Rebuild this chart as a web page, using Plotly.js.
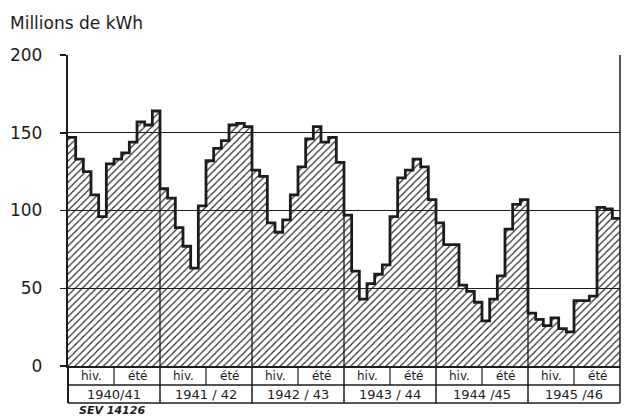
<!DOCTYPE html>
<html>
<head>
<meta charset="utf-8">
<script src="https://cdn.plot.ly/plotly-3.0.1.min.js"></script>
<style>html,body{margin:0;padding:0;background:#fff;}#chart{width:625px;height:418px;}</style>
</head>
<body>
<div id="chart"></div>
<script>
// Monthly values (millions de kWh), hydrological years, 12 months each
const years = ["1940/41", "1941 / 42", "1942 / 43", "1943 / 44", "1944 /45", "1945 /46"];
const seasons = ["hiv.", "été"];
const v1940 = [147, 133, 125, 110, 96, 130, 133, 137, 144, 157, 155, 164];
const v1941 = [114, 108, 89, 77, 63, 103, 132, 140, 145, 155, 156, 154];
const v1942 = [126, 122, 92, 86, 94, 110, 128, 146, 154, 144, 147, 131];
const v1943 = [97, 61, 43, 53, 59, 65, 96, 121, 126, 133, 128, 107];
const v1944 = [92, 78, 78, 52, 48, 41, 29, 43, 58, 88, 104, 107];
const v1945 = [34, 30, 26, 31, 24, 22, 42, 42, 45, 102, 101, 95];
const yTicks = [0, 50, 100, 150, 200];

const series = [v1940, v1941, v1942, v1943, v1944, v1945];
const yv = [].concat(...series);
const xv = yv.map((_, i) => i);
const nMonths = yv.length;
xv.push(nMonths); yv.push(yv[yv.length - 1]);
const perYear = 12;

const ink = '#1c1c1c';
const font = 'DejaVu Sans, sans-serif';

const trace = {
  type: 'scatter', mode: 'lines', x: xv, y: yv,
  line: {shape: 'hv', color: ink, width: 2.8},
  fill: 'tozeroy', fillcolor: 'rgba(0,0,0,0)',
  fillpattern: {shape: '/', size: 5, solidity: 0.22, fgcolor: '#222', bgcolor: 'rgba(0,0,0,0)'},
  hoverinfo: 'skip'
};

const row1 = -0.0611, row2 = -0.119;
const shapes = [];
const annotations = [];
const nYears = years.length;
// year separators inside the plot, from the baseline up to the step line
for (let k = 1; k < nYears; k++) {
  const i = k * perYear;
  shapes.push({type: 'line', xref: 'x', yref: 'y', x0: i, x1: i, y0: 0, y1: Math.min(yv[i - 1], yv[i]), line: {color: ink, width: 1.3}});
}
// right border
shapes.push({type: 'line', xref: 'paper', yref: 'paper', x0: 1, x1: 1, y0: 0, y1: 1, line: {color: ink, width: 1.5}});
// table horizontal lines
[row1, row2].forEach(y => shapes.push({type: 'line', xref: 'paper', yref: 'paper', x0: 0, x1: 1, y0: y, y1: y, line: {color: ink, width: 1.5}}));
// table vertical lines
for (let k = 0; k <= nYears; k++) {
  shapes.push({type: 'line', xref: 'paper', yref: 'paper', x0: k / nYears, x1: k / nYears, y0: row2, y1: 0, line: {color: ink, width: k === 0 ? 2 : 1.5}});
}
for (let k = 0; k < nYears; k++) {
  const mid = (k + 0.5) / nYears;
  shapes.push({type: 'line', xref: 'paper', yref: 'paper', x0: mid, x1: mid, y0: row1, y1: 0, line: {color: ink, width: 1.2}});
  annotations.push({xref: 'paper', yref: 'paper', x: (k + 0.25) / nYears, y: row1 / 2, text: seasons[0], showarrow: false, font: {family: font, size: 12, color: ink}, xanchor: 'center', yanchor: 'middle'});
  annotations.push({xref: 'paper', yref: 'paper', x: (k + 0.75) / nYears, y: row1 / 2, text: seasons[1], showarrow: false, font: {family: font, size: 12, color: ink}, xanchor: 'center', yanchor: 'middle'});
  annotations.push({xref: 'paper', yref: 'paper', x: (k + 0.5) / nYears, y: (row1 + row2) / 2, text: years[k], showarrow: false, font: {family: font, size: 13, color: ink}, xanchor: 'center', yanchor: 'middle'});
}
annotations.push({xref: 'paper', yref: 'paper', x: 0.016, y: -0.142, text: '<b><i>SEV 14126</i></b>', showarrow: false, font: {family: font, size: 11, color: ink}, xanchor: 'left', yanchor: 'middle'});

const layout = {
  width: 625, height: 418,
  margin: {l: 68, r: 5, t: 55, b: 52},
  paper_bgcolor: '#fff', plot_bgcolor: '#fff',
  showlegend: false,
  title: {text: 'Millions de kWh', x: 0.016, xanchor: 'left', xref: 'container', y: 0.945, yref: 'container', yanchor: 'middle', font: {family: font, size: 17, color: ink}},
  xaxis: {range: [0, nMonths], showticklabels: false, ticks: '', showgrid: false, zeroline: false, showline: true, linecolor: ink, linewidth: 2.2, fixedrange: true},
  yaxis: {range: [0, 200], tickvals: yTicks, ticktext: yTicks.map(String), ticks: 'outside', ticklen: 6, tickwidth: 1.5, tickcolor: ink, ticklabelstandoff: 14, tickfont: {family: font, size: 17, color: ink}, showgrid: true, gridcolor: ink, gridwidth: 1.2, zeroline: false, showline: true, linecolor: ink, linewidth: 2.2, fixedrange: true},
  shapes: shapes,
  annotations: annotations
};

Plotly.newPlot('chart', [trace], layout, {staticPlot: true, displayModeBar: false});
</script>
</body>
</html>
